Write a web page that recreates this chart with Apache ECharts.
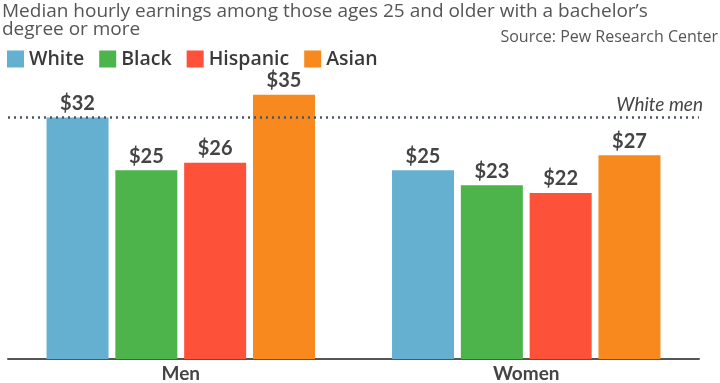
<!DOCTYPE html>
<html><head><meta charset="utf-8">
<script src="https://cdn.jsdelivr.net/npm/echarts@6/dist/echarts.min.js"></script>
<style>html,body{margin:0;padding:0;background:#fff}#c{width:720px;height:383px}</style>
</head><body><div id="c"></div>
<script>
const categories = ['Men', 'Women'];
const seriesNames = ['White', 'Black', 'Hispanic', 'Asian'];
const white = [32, 25];
const black = [25, 23];
const hispanic = [26, 22];
const asian = [35, 27];
const referenceValue = 32;
const referenceLabel = 'White men';
const titleText = 'Median hourly earnings among those ages 25 and older with a bachelor\u2019s\ndegree or more';
const sourceText = 'Source: Pew Research Center';

const colors = ['#65b0d1', '#4db34b', '#fe5139', '#f7891f'];
const values = [white, black, hispanic, asian];

const chart = echarts.init(document.getElementById('c'), null, {renderer: 'canvas'});
const series = seriesNames.map((n, i) => ({
  name: n,
  type: 'bar',
  data: values[i],
  barWidth: 62,
  barGap: '11%',
  itemStyle: {color: colors[i]},
  label: {
    show: true, position: 'top', distance: 4,
    formatter: p => '$' + p.value,
    fontFamily: 'Lato', fontWeight: 'bold', fontSize: 20, color: '#444'
  },
  markLine: i === 0 ? {
    silent: true, symbol: 'none',
    data: [{yAxis: referenceValue}],
    lineStyle: {type: [2, 4], color: '#4a5563', width: 2.5},
    label: {show: true, position: 'insideEndTop', formatter: referenceLabel,
      fontFamily: 'Lato', fontStyle: 'italic', fontSize: 19, color: '#444', distance: [-4, 3]}
  } : undefined
}));

chart.setOption({
  animation: false,
  color: colors,
  title: [
    {text: titleText, left: 2, top: 3, padding: [0, 0, 0, 0],
      textStyle: {fontFamily: 'Open Sans', fontWeight: 'normal', fontSize: 19, lineHeight: 18, color: '#555'}},
    {text: sourceText, right: 2, top: 29, padding: 0,
      textStyle: {fontFamily: 'Open Sans', fontWeight: 'normal', fontSize: 16, color: '#555'}}
  ],
  legend: {
    left: 7, top: 49, padding: 0, itemWidth: 17, itemHeight: 17, itemGap: 15,
    icon: 'rect',
    textStyle: {fontFamily: 'Open Sans', fontWeight: 600, fontSize: 19.5, color: '#3a3a3a'},
    data: seriesNames
  },
  grid: {left: 8, right: 21, top: 57, bottom: 23, containLabel: false},
  xAxis: {
    type: 'category', data: categories,
    axisLine: {lineStyle: {color: '#555', width: 2}},
    axisTick: {show: false},
    axisLabel: {fontFamily: 'Lato', fontWeight: 'bold', fontSize: 19, color: '#444', margin: 5}
  },
  yAxis: {type: 'value', min: 0, max: 40, show: false, splitLine: {show: false}},
  series: series
});
</script></body></html>
